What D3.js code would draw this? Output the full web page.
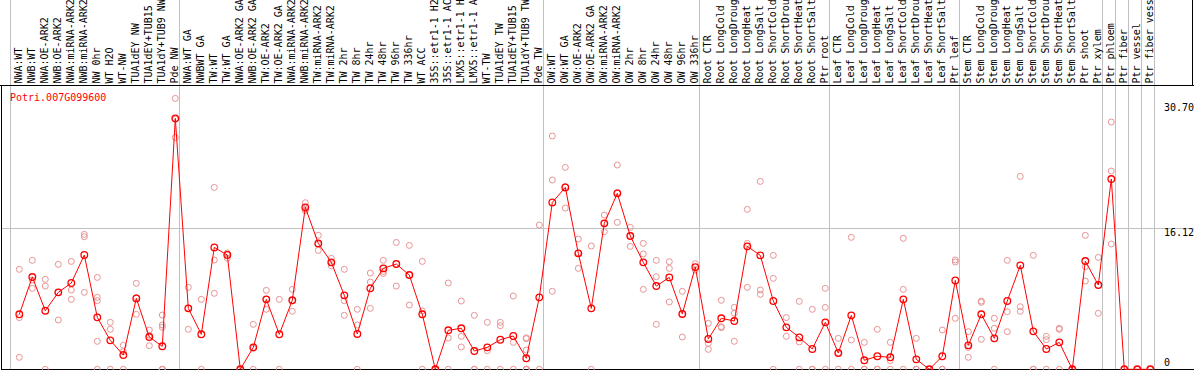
<!DOCTYPE html>
<html>
<head>
<meta charset="utf-8">
<script src="https://cdn.jsdelivr.net/npm/d3@7"></script>
<style>
  body { margin: 0; background: #fff; }
  svg text { font-family: "DejaVu Sans Mono", monospace; font-size: 10px; }
</style>
</head>
<body>
<div id="chart"></div>
<script>
// gene shown
var geneId = "Potri.007G099600";

// sample labels, one per column
var labels = [
  "NWA:WT", "NWB:WT", "NWA:OE-ARK2", "NWB:OE-ARK2", "NWA:miRNA-ARK2", "NWB:miRNA-ARK2",
  "NW 0hr", "WT H2O", "WT-NW", "TUA1dEY NW", "TUA1dEY+TUB15", "TUA1dY+TUB9 NW", "Pde NW",
  "NWA:WT GA", "NWBWT GA", "TW:WT", "TW:WT GA", "NWA:OE-ARK2 GA", "NWB:OE-ARK2 GA",
  "TW:OE-ARK2", "TW:OE-ARK2 GA", "NWA:miRNA-ARK2", "NWB:miRNA-ARK2", "TW:miRNA-ARK2",
  "TW:miRNA-ARK2", "TW 2hr", "TW 8hr", "TW 24hr", "TW 48hr", "TW 96hr", "TW 336hr",
  "WT ACC", "35S::etr1-1 H2", "35S::etr1-1 AC", "LMX5::etr1-1 H", "LMX5::etr1-1 A",
  "WT-TW", "TUA1dEY TW", "TUA1dEY+TUB15", "TUA1dY+TUB9 TW", "Pde TW",
  "OW:WT", "OW:WT GA", "OW:OE-ARK2", "OW:OE-ARK2 GA", "OW:miRNA-ARK2", "OW:miRNA-ARK2",
  "OW 2hr", "OW 8hr", "OW 24hr", "OW 48hr", "OW 96hr", "OW 336hr",
  "Root CTR", "Root LongCold", "Root LongDroug", "Root LongHeat", "Root LongSalt",
  "Root ShortCold", "Root ShortDrou", "Root ShortHeat", "Root ShortSalt", "Ptr root",
  "Leaf CTR", "Leaf LongCold", "Leaf LongDroug", "Leaf LongHeat", "Leaf LongSalt",
  "Leaf ShortCold", "Leaf ShortDrou", "Leaf ShortHeat", "Leaf ShortSalt", "Ptr leaf",
  "Stem CTR", "Stem LongCold", "Stem LongDroug", "Stem LongHeat", "Stem LongSalt",
  "Stem ShortCold", "Stem ShortDrou", "Stem ShortHeat", "Stem ShortSalt", "Ptr shoot",
  "Ptr xylem", "Ptr phloem", "Ptr fiber", "Ptr vessel", "Ptr fiber vess"
];

// number of columns in each experiment block (separated by grey lines)
var groupSizes = [13, 28, 12, 10, 10, 11, 1, 1, 1, 1];

// mean expression per column
var means = [
  6.29, 10.55, 6.70, 8.80, 9.87, 13.07, 5.94, 3.31, 1.63, 8.11, 3.69, 2.63, 28.70,
  6.97, 4.00, 13.94, 13.07, 0, 2.51, 8.00, 4.00, 7.89, 18.52, 14.40, 12.23, 8.46,
  4.04, 9.26, 11.54, 12.04, 10.78, 6.29, 0, 4.46, 4.69, 2.09, 2.51, 3.38, 3.81, 1.26, 8.23,
  19.09, 20.80, 13.26, 6.97, 16.69, 20.12, 15.24, 12.23, 9.52, 10.51, 6.33, 11.69,
  3.47, 5.83, 5.52, 14.06, 13.03, 7.81, 4.80, 3.65, 2.32, 5.37,
  1.86, 6.17, 1.03, 1.49, 1.37, 8.00, 1.14, 0, 1.49, 10.17,
  2.74, 6.29, 3.54, 7.81, 11.89, 4.34, 2.32, 3.08, 0, 12.38,
  9.64, 21.76, 0, 0, 0
];

// replicate values per column
var reps = [
  [11.43, 5.91, 1.37], [12.46, 10.21, 9.26], [10.29, 9.52, 0], [12.0, 8.8, 5.64],
  [12.34, 9.07, 8.0], [15.43, 15.16, 8.8], [10.51, 8.23, 7.85, 3.2, 0], [5.37, 4.57, 0],
  [2.74, 2.02, 0], [9.83, 8.2, 6.29], [4.49, 3.9, 2.70], [6.21, 5.07, 4.8, 0, 0, 0],
  [30.98, 28.6, 26.52],
  [9.37, 7.0, 4.57], [8.0, 0], [20.8, 12.5, 8.69], [13.3, 13.2, 12.7], [0, 0],
  [5.14, 2.4, 0], [9.03, 8.0, 6.86], [8.0, 0], [9.14, 7.9, 6.63], [19.05, 18.3, 18.14],
  [15.32, 14.3, 13.6], [12.69, 12.2, 11.85], [11.43, 7.85, 6.17], [6.86, 5.07, 0],
  [11.01, 9.98, 6.97], [12.46, 11.2, 10.97], [14.51, 12.04, 9.52], [14.17, 10.8, 7.35],
  [12.34, 6.67, 0], [0, 0], [9.87, 3.58, 0], [7.81, 3.77, 2.55], [6.17, 0, 0],
  [5.37, 2.13, 0], [5.37, 4.99, 0], [8.38, 3.08, 0], [3.6, 3.5, 2.2, 0, 0, 0, 0], [16.5, 0],
  [26.68, 21.65, 8.92], [23.09, 20.9, 18.44], [14.9, 13.3, 11.54], [14.1, 0],
  [17.64, 16.7, 15.74], [23.36, 20.2, 16.81], [16.23, 15.3, 14.06], [14.4, 13.19, 9.14],
  [12.46, 10.59, 5.14], [12.31, 11.54, 7.7], [8.92, 6.3, 3.69], [12.08, 11.35],
  [5.26, 2.97, 2.28], [7.89, 4.88, 4.76], [7.08, 6.4, 3.2], [18.29, 14.4, 9.37],
  [21.49, 9.07, 8.57], [13.03, 10.4, 0], [5.91, 3.77], [7.77, 3.13, 0], [6.86, 0, 0],
  [9.26, 7.08, 0],
  [3.54, 1.9, 0], [15.09, 3.35, 0], [3.08, 0, 0], [4.57, 0, 0], [3.08, 1.0, 0],
  [14.98, 9.14, 0], [3.54, 0, 0], [0, 0], [4.49, 0, 0], [12.5, 12.27, 5.83],
  [4.3, 2.5, 1.37], [7.66, 7.8, 3.43], [5.83, 4.69, 0], [12.46, 6.59, 4.3],
  [22.06, 7.16, 6.63], [13.03, 0, 0], [3.77, 3.39, 0], [4.69, 4.57, 0], [0, 0],
  [15.32, 11.74, 10.1],
  [12.8, 9.6, 6.4], [28.28, 22.67, 14.33], [0, 0], [0, 0], [0, 0]
];

// right-hand axis labels
var tickValues = [0, 16.12, 30.70];
var tickLabels = ["0", "16.12", "30.70"];

var width = 1194, height = 370;
var labelBottom = 86, plotBottom = 369.5;

var svg = d3.select("#chart").append("svg")
    .attr("width", width)
    .attr("height", height);

var x = d3.scaleBand()
    .domain(d3.range(labels.length))
    .range([11, 11 + 13 * labels.length]);

var y = d3.scaleLinear()
    .domain([0, 32.4])
    .range([369.3, labelBottom]);

var cx = function(i) { return x(i) + 8.3; };

// grey separators between experiment blocks
var bounds = [0];
groupSizes.forEach(function(n) { bounds.push(bounds[bounds.length - 1] + n); });

svg.append("g").selectAll("line")
    .data(bounds)
    .enter().append("line")
    .attr("x1", function(b) { return Math.round(x.range()[0] + b * x.step()) - 0.5; })
    .attr("x2", function(b) { return Math.round(x.range()[0] + b * x.step()) - 0.5; })
    .attr("y1", 0)
    .attr("y2", plotBottom)
    .attr("stroke", "#c0c0c0")
    .attr("stroke-width", 1);

// horizontal grid at middle tick
svg.append("line")
    .attr("x1", 1).attr("x2", width)
    .attr("y1", Math.round(y(16.12)) + 0.5).attr("y2", Math.round(y(16.12)) + 0.5)
    .attr("stroke", "#c0c0c0");

// column labels
svg.append("g").selectAll("text")
    .data(labels)
    .enter().append("text")
    .attr("transform", function(d, i) { return "translate(" + (x(i) + 10.8) + "," + (labelBottom - 2.5) + ") rotate(-90)"; })
    .attr("fill", "#000")
    .text(function(d) { return d; });

// frame
var frame = svg.append("g").attr("stroke", "#000").attr("stroke-width", 1);
frame.append("line").attr("x1", 0).attr("x2", width).attr("y1", labelBottom - 0.5).attr("y2", labelBottom - 0.5);
frame.append("line").attr("x1", 1.5).attr("x2", 1.5).attr("y1", labelBottom - 0.5).attr("y2", height);
frame.append("line").attr("x1", 1).attr("x2", width).attr("y1", plotBottom).attr("y2", plotBottom);
frame.append("line").attr("x1", width - 1.5).attr("x2", width - 1.5).attr("y1", 0).attr("y2", labelBottom);

// replicate points
var repPts = [];
reps.forEach(function(arr, i) { arr.forEach(function(v) { repPts.push({ i: i, v: v }); }); });

svg.append("g").selectAll("circle")
    .data(repPts)
    .enter().append("circle")
    .attr("cx", function(d) { return cx(d.i); })
    .attr("cy", function(d) { return y(d.v); })
    .attr("r", 3)
    .attr("fill", "none")
    .attr("stroke", "#e89494")
    .attr("stroke-width", 1);

// mean line
var line = d3.line()
    .x(function(d, i) { return cx(i); })
    .y(function(d) { return y(d); });

svg.append("path")
    .datum(means)
    .attr("d", line)
    .attr("fill", "none")
    .attr("stroke", "#ff0000")
    .attr("stroke-width", 1);

svg.append("g").selectAll("circle")
    .data(means)
    .enter().append("circle")
    .attr("cx", function(d, i) { return cx(i); })
    .attr("cy", function(d) { return y(d); })
    .attr("r", 3.3)
    .attr("fill", "none")
    .attr("stroke", "#ff0000")
    .attr("stroke-width", 1.3);

// gene name
svg.append("text")
    .attr("x", 10)
    .attr("y", 100.5)
    .attr("fill", "#ff0000")
    .text(geneId);

// right axis labels
svg.append("g").selectAll("text")
    .data(tickValues)
    .enter().append("text")
    .attr("x", 1164)
    .attr("y", function(d, i) { return i === 0 ? y(d) - 3.5 : y(d) + 7.5 + (i === 2 ? 3 : 0); })
    .attr("fill", "#000")
    .text(function(d, i) { return tickLabels[i]; });
</script>
</body>
</html>
